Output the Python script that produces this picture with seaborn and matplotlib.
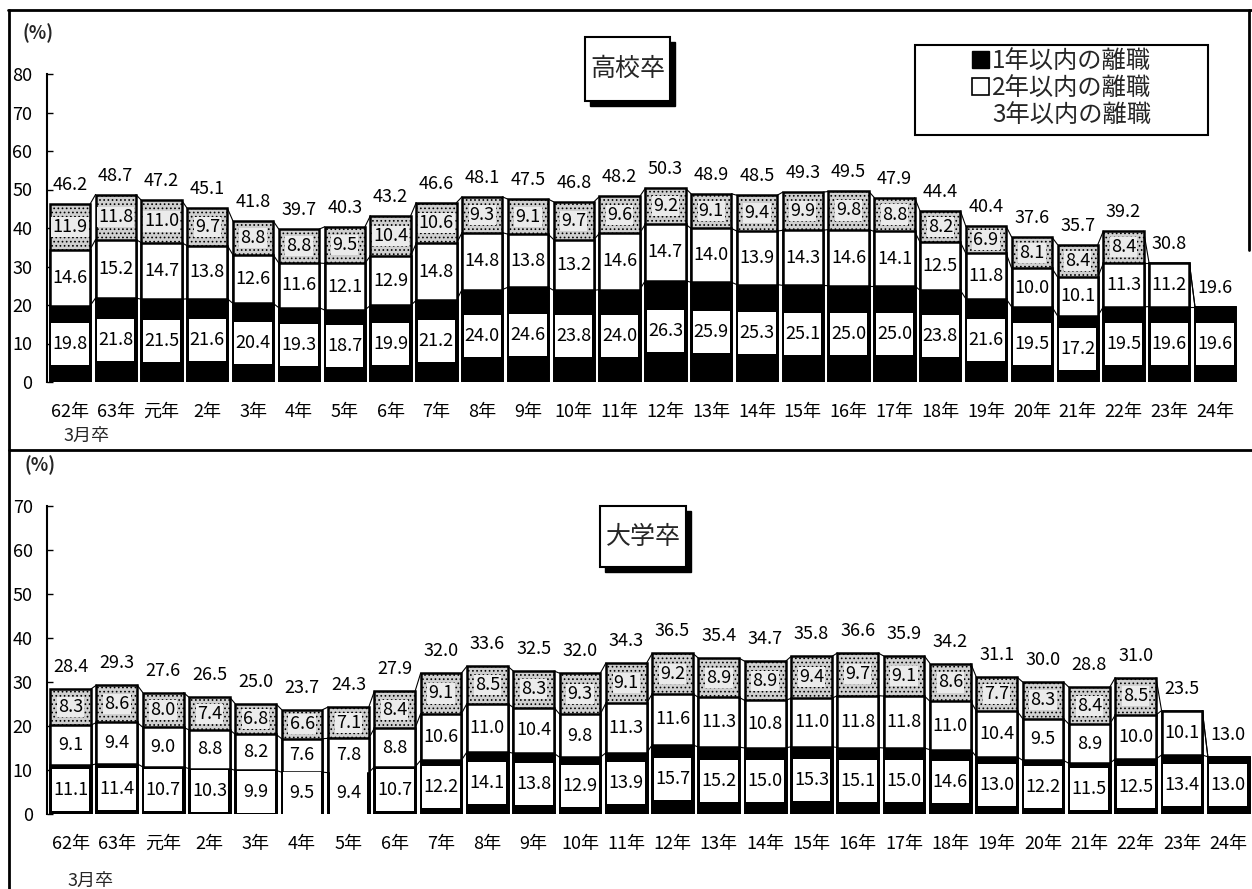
import numpy as np
import pandas as pd
import matplotlib
matplotlib.use("Agg")
import matplotlib.pyplot as plt
import seaborn as sns
from matplotlib.path import Path
from matplotlib.patches import Patch, Rectangle
from matplotlib.lines import Line2D

sns.set_theme(style="white")
plt.rcParams["font.family"] = ["Noto Sans CJK JP", "DejaVu Sans"]
plt.rcParams["hatch.linewidth"] = 0.7

# ---- data -------------------------------------------------------------
years = ["62年", "63年", "元年", "2年", "3年", "4年", "5年", "6年", "7年", "8年",
         "9年", "10年", "11年", "12年", "13年", "14年", "15年", "16年", "17年",
         "18年", "19年", "20年", "21年", "22年", "23年", "24年"]

series_names = ["1年以内の離職", "2年以内の離職", "3年以内の離職"]

# 高校卒
hs_year1 = [19.8, 21.8, 21.5, 21.6, 20.4, 19.3, 18.7, 19.9, 21.2, 24.0, 24.6, 23.8, 24.0,
            26.3, 25.9, 25.3, 25.1, 25.0, 25.0, 23.8, 21.6, 19.5, 17.2, 19.5, 19.6, 19.6]
hs_year2 = [14.6, 15.2, 14.7, 13.8, 12.6, 11.6, 12.1, 12.9, 14.8, 14.8, 13.8, 13.2, 14.6,
            14.7, 14.0, 13.9, 14.3, 14.6, 14.1, 12.5, 11.8, 10.0, 10.1, 11.3, 11.2, np.nan]
hs_year3 = [11.9, 11.8, 11.0, 9.7, 8.8, 8.8, 9.5, 10.4, 10.6, 9.3, 9.1, 9.7, 9.6,
            9.2, 9.1, 9.4, 9.9, 9.8, 8.8, 8.2, 6.9, 8.1, 8.4, 8.4, np.nan, np.nan]
hs_total = [46.2, 48.7, 47.2, 45.1, 41.8, 39.7, 40.3, 43.2, 46.6, 48.1, 47.5, 46.8, 48.2,
            50.3, 48.9, 48.5, 49.3, 49.5, 47.9, 44.4, 40.4, 37.6, 35.7, 39.2, 30.8, 19.6]

# 大学卒
un_year1 = [11.1, 11.4, 10.7, 10.3, 9.9, 9.5, 9.4, 10.7, 12.2, 14.1, 13.8, 12.9, 13.9,
            15.7, 15.2, 15.0, 15.3, 15.1, 15.0, 14.6, 13.0, 12.2, 11.5, 12.5, 13.4, 13.0]
un_year2 = [9.1, 9.4, 9.0, 8.8, 8.2, 7.6, 7.8, 8.8, 10.6, 11.0, 10.4, 9.8, 11.3,
            11.6, 11.3, 10.8, 11.0, 11.8, 11.8, 11.0, 10.4, 9.5, 8.9, 10.0, 10.1, np.nan]
un_year3 = [8.3, 8.6, 8.0, 7.4, 6.8, 6.6, 7.1, 8.4, 9.1, 8.5, 8.3, 9.3, 9.1,
            9.2, 8.9, 8.9, 9.4, 9.7, 9.1, 8.6, 7.7, 8.3, 8.4, 8.5, np.nan, np.nan]
un_total = [28.4, 29.3, 27.6, 26.5, 25.0, 23.7, 24.3, 27.9, 32.0, 33.6, 32.5, 32.0, 34.3,
            36.5, 35.4, 34.7, 35.8, 36.6, 35.9, 34.2, 31.1, 30.0, 28.8, 31.0, 23.5, 13.0]

# ---- layout -----------------------------------------------------------
W, H = 1252, 889
DPI = 100
BAR_W = 0.88
FS = 13

fig = plt.figure(figsize=(W / DPI, H / DPI), dpi=DPI)


def fx(x):
    return x / W


def fy(y):
    return 1 - y / H


def plate_style(w_px, h_px):
    """Fixed-size white label plate centred on the text."""
    def style(x0, y0, width, height, mutation_size):
        cx, cy = x0 + width / 2, y0 + height / 2
        verts = [(cx - w_px / 2, cy - h_px / 2), (cx + w_px / 2, cy - h_px / 2),
                 (cx + w_px / 2, cy + h_px / 2), (cx - w_px / 2, cy + h_px / 2),
                 (cx - w_px / 2, cy - h_px / 2)]
        codes = [Path.MOVETO, Path.LINETO, Path.LINETO, Path.LINETO, Path.CLOSEPOLY]
        return Path(verts, codes)
    return style


def draw_panel(ax, y1, y2, y3, total, ymax, pitch_px, top_off_px):
    y1 = np.asarray(y1, float)
    y2 = np.asarray(y2, float)
    y3 = np.asarray(y3, float)
    total = np.asarray(total, float)
    c1 = y1
    c2 = y1 + np.nan_to_num(y2)
    c3 = total
    df = pd.DataFrame({"year": years, "c1": c1, "c2": c2, "c3": c3})
    common = dict(data=df, x="year", order=years, width=BAR_W, edgecolor="black",
                  linewidth=1.8, saturation=1, errorbar=None, ax=ax)
    sns.barplot(y="c3", color="#cfcfcf", hatch="....", **common)
    sns.barplot(y="c2", color="white", **common)
    sns.barplot(y="c1", color="black", **common)

    # series lines joining adjacent stack levels
    xs = np.arange(len(years))
    for lvl in (c1, c2, c3):
        for i in range(len(years) - 1):
            ax.plot([xs[i] + BAR_W / 2, xs[i + 1] - BAR_W / 2], [lvl[i], lvl[i + 1]],
                    color="black", lw=0.8, zorder=0.5)

    bar_px = BAR_W * pitch_px
    for i in range(len(years)):
        ax.text(xs[i], y1[i] / 2, f"{y1[i]:.1f}", ha="center", va="center",
                fontsize=FS, color="black",
                bbox=dict(boxstyle=plate_style(bar_px - 3, 42), fc="white", ec="none"))
        if not np.isnan(y2[i]):
            ax.text(xs[i], c1[i] + y2[i] / 2, f"{y2[i]:.1f}", ha="center", va="center",
                    fontsize=FS, color="black")
        if not np.isnan(y3[i]):
            ax.text(xs[i], (c2[i] + c3[i]) / 2, f"{y3[i]:.1f}", ha="center", va="center",
                    fontsize=FS, color="black",
                    bbox=dict(boxstyle="square,pad=0.06", fc="#ebebeb", ec="none"))
        ax.annotate(f"{total[i]:.1f}", (xs[i], total[i]), xytext=(0, top_off_px * 0.72),
                    textcoords="offset points", ha="center", va="center",
                    fontsize=FS, color="black")

    ax.set_xlim(-0.5, len(years) - 0.5)
    ax.set_ylim(0, ymax)
    ax.set_yticks(np.arange(0, ymax + 1, 10))
    ax.set_xlabel("")
    ax.set_ylabel("")
    for s in ("top", "right", "bottom"):
        ax.spines[s].set_visible(False)
    ax.spines["left"].set_color("black")
    ax.spines["left"].set_linewidth(1.5)
    ax.tick_params(axis="y", left=True, direction="in", length=4, width=1,
                   color="black", labelsize=FS, pad=10.5, labelcolor="black")
    ax.tick_params(axis="x", bottom=True, length=0, labelsize=FS, pad=15,
                   labelcolor="black")
    ax.grid(False)


# top panel: 高校卒
ax1 = fig.add_axes([fx(47), fy(382), 1191 / W, 308 / H])
draw_panel(ax1, hs_year1, hs_year2, hs_year3, hs_total, 80, 45.8, 19)

# bottom panel: 大学卒
ax2 = fig.add_axes([fx(47.4), fy(814), 1204 / W, 308 / H])
draw_panel(ax2, un_year1, un_year2, un_year3, un_total, 70, 46.3, 22)

# panel frames
frame_kw = dict(color="black", lw=2, transform=fig.transFigure)
fig.add_artist(Line2D([fx(8), fx(1252)], [fy(10), fy(10)], **frame_kw))
fig.add_artist(Line2D([fx(9), fx(9)], [fy(10), fy(889)], **frame_kw))
fig.add_artist(Line2D([fx(9), fx(1252)], [fy(450), fy(450)], **frame_kw))
fig.add_artist(Line2D([fx(1249), fx(1249)], [fy(10), fy(250)], **frame_kw))

# unit labels and year note
fig.text(fx(38), fy(33), "(%)", ha="center", va="center", fontsize=13, fontweight="bold")
fig.text(fx(40), fy(465), "(%)", ha="center", va="center", fontsize=13, fontweight="bold")
fig.text(fx(86), fy(436), "3月卒", ha="center", va="center", fontsize=13)
fig.text(fx(90), fy(881), "3月卒", ha="center", va="center", fontsize=13)


def title_box(x0, y0, w, h, label):
    fig.add_artist(Rectangle((fx(x0 + 5), fy(y0 + h + 5)), w / W, h / H,
                             transform=fig.transFigure, fc="black", ec="black"))
    fig.add_artist(Rectangle((fx(x0), fy(y0 + h)), w / W, h / H,
                             transform=fig.transFigure, fc="white", ec="black", lw=1.5))
    fig.text(fx(x0 + w / 2), fy(y0 + h / 2), label, ha="center", va="center", fontsize=18)


title_box(585, 37, 85, 64, "高校卒")
title_box(600, 506, 86, 61, "大学卒")

# legend
fig.add_artist(Rectangle((fx(915), fy(135)), 293 / W, 90 / H, transform=fig.transFigure,
                         fc="white", ec="black", lw=1.5))
handles = [Patch(fc="black", ec="black"),
           Patch(fc="white", ec="black", lw=1.2),
           Patch(fc="none", ec="none")]
fig.legend(handles, series_names, loc="upper left", bbox_to_anchor=(fx(972), fy(48)),
           frameon=False, fontsize=17.5, handlelength=0.7, handleheight=0.7,
           handletextpad=0.12, labelspacing=0.05, borderpad=0, borderaxespad=0)

fig.savefig("out.png", dpi=DPI)
